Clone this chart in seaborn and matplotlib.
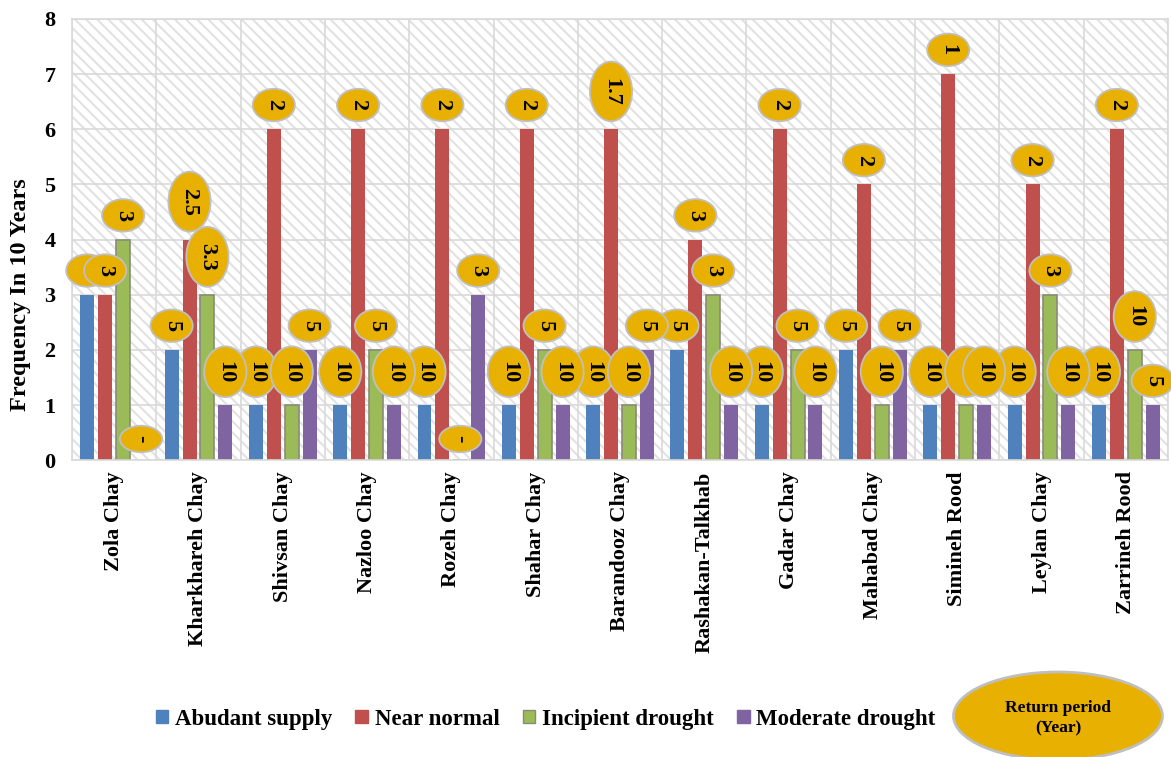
import numpy as np
import pandas as pd
import seaborn as sns
import matplotlib
matplotlib.use("Agg")
import matplotlib.pyplot as plt
from matplotlib.path import Path
from matplotlib.patches import Rectangle, Ellipse, Patch
from matplotlib.text import Text

# ---- data -------------------------------------------------------------
rivers = ["Zola Chay", "Kharkhareh Chay", "Shivsan Chay", "Nazloo Chay",
          "Rozeh Chay", "Shahar Chay", "Barandooz Chay", "Rashakan-Talkhab",
          "Gadar Chay", "Mahabad Chay", "Simineh Rood", "Leylan Chay",
          "Zarrineh Rood"]
classes = ["Abudant supply", "Near normal", "Incipient drought", "Moderate drought"]

abundant = [3, 2, 1, 1, 1, 1, 1, 2, 1, 2, 1, 1, 1]
near_normal = [3, 4, 6, 6, 6, 6, 6, 4, 6, 5, 7, 5, 6]
incipient = [4, 3, 1, 2, 0, 2, 1, 3, 2, 1, 1, 3, 2]
moderate = [0, 1, 2, 1, 3, 1, 2, 1, 1, 2, 1, 1, 1]

# return period (years) written in the callouts
rp_abundant = ["3", "5", "10", "10", "10", "10", "10", "5", "10", "5", "10", "10", "10"]
rp_near_normal = ["3", "2.5", "2", "2", "2", "2", "1.7", "3", "2", "2", "1", "2", "2"]
rp_incipient = ["3", "3.3", "10", "5", "-", "5", "10", "3", "5", "10", "10", "3", "10"]
rp_moderate = ["-", "10", "5", "10", "3", "10", "5", "10", "10", "5", "10", "10", "5"]

colors = ["#4F81BD", "#C0504D", "#9BBB59", "#8064A2"]
GOLD = "#E8B000"
GRID = "#D9D9D9"

df = pd.DataFrame({
    "River": np.tile(rivers, 4),
    "Class": np.repeat(classes, len(rivers)),
    "Freq": np.concatenate([abundant, near_normal, incipient, moderate]),
})

# ---- style --------------------------------------------------------------
sns.set_style("white")
plt.rcParams["font.family"] = ["Liberation Serif", "DejaVu Serif"]
plt.rcParams["font.weight"] = "bold"
plt.rcParams["text.color"] = "black"
plt.rcParams["axes.labelcolor"] = "black"
plt.rcParams["xtick.color"] = "black"
plt.rcParams["ytick.color"] = "black"
plt.rcParams["hatch.linewidth"] = 1.5

DPI = 100
fig, ax = plt.subplots(figsize=(11.71, 7.57), dpi=DPI)
fig.subplots_adjust(left=0.0615, right=0.9974, bottom=0.392, top=0.975)

# diagonal-striped plot background
ax.add_patch(Rectangle((0, 0), 1, 1, transform=ax.transAxes, facecolor="white",
                       edgecolor="#E2E2E2", hatch="\\\\\\", linewidth=0, zorder=0.1))

sns.barplot(data=df, x="River", y="Freq", hue="Class", order=rivers,
            hue_order=classes, palette=colors, saturation=1, width=0.85,
            gap=0.22, linewidth=0, ax=ax, zorder=2)
if ax.get_legend() is not None:
    ax.get_legend().remove()

# olive outline on the incipient-drought bars
for bar in ax.containers[2]:
    bar.set_edgecolor("#8A8A7A")
    bar.set_linewidth(1.2)

# ---- axes -------------------------------------------------------------
ax.set_xlim(-0.5, len(rivers) - 0.5)
ax.set_ylim(0, 8)
ax.set_yticks(range(0, 9))
ax.set_xticks(range(len(rivers)))
ax.set_xticklabels(rivers, rotation=90, fontsize=16, fontweight="bold", color="black")
ax.set_xticks(np.arange(-0.5, len(rivers)), minor=True)
ax.tick_params(axis="both", which="both", length=0)
ax.tick_params(axis="y", labelsize=16, pad=12, labelcolor="black")
ax.tick_params(axis="x", pad=8, labelcolor="black")
for lab in ax.get_yticklabels():
    lab.set_fontweight("bold")
ax.set_xlabel("")
ax.set_ylabel("Frequency In 10 Years", fontsize=17.5, fontweight="bold", color="black")
ax.yaxis.set_label_coords(-0.037, 0.376)

ax.set_axisbelow(True)
ax.grid(False)
ax.grid(True, which="major", axis="y", color=GRID, linewidth=1.2)
ax.grid(True, which="minor", axis="x", color=GRID, linewidth=1.2)
for sp in ax.spines.values():
    sp.set_visible(True)
    sp.set_color(GRID)
    sp.set_linewidth(1.2)


# ---- oval callouts with return periods ----------------------------------
def oval(x0, y0, width, height, mutation_size):
    length = 0.64 * mutation_size + 1.64 * width
    thick = 1.9 * mutation_size
    cx, cy = x0 + width / 2, y0 + height / 2
    circ = Path.unit_circle()
    verts = circ.vertices * np.array([length / 2, thick / 2]) + np.array([cx, cy])
    return Path(verts, circ.codes)


LABEL_FS = 16
fs_px = LABEL_FS * DPI / 72
renderer = fig.canvas.get_renderer()
for cont, texts in zip(ax.containers,
                       [rp_abundant, rp_near_normal, rp_incipient, rp_moderate]):
    for bar, txt in zip(cont, texts):
        x = bar.get_x() + bar.get_width() / 2
        h = bar.get_height()
        t = ax.annotate(txt, xy=(x, h), xytext=(0, 0), textcoords="offset points",
                        ha="center", va="center", rotation=-90,
                        fontsize=LABEL_FS, fontweight="bold", color="black",
                        bbox=dict(boxstyle=oval, fc=GOLD, ec="#C0C0C0", lw=1.3),
                        annotation_clip=False, zorder=5)
        w = Text.get_window_extent(t, renderer).height
        length = 0.64 * fs_px + 1.64 * w
        t.xyann = (0, (8 + length / 2) * 72 / DPI)

# ---- legend and key oval ------------------------------------------------
handles = [Patch(facecolor=c, edgecolor=("#8A8A7A" if i == 2 else c), linewidth=1)
           for i, c in enumerate(colors)]
fig.legend(handles, classes, loc="center", bbox_to_anchor=(0.466, 0.05),
           ncol=4, frameon=False, handlelength=0.55,
           handleheight=0.55, handletextpad=0.3, columnspacing=1.0,
           prop={"weight": "bold", "size": 16.5}, labelcolor="black")

fig.add_artist(Ellipse((1058 / 1171, 1 - 716 / 757), 209 / 1171, 88 / 757,
                       transform=fig.transFigure, facecolor=GOLD,
                       edgecolor="#BFBFBF", linewidth=2, zorder=3))
fig.text(1058 / 1171, 1 - 718 / 757, "Return period\n(Year)", ha="center",
         va="center", fontsize=12.5, fontweight="bold", linespacing=1.35,
         color="black", zorder=4)

fig.savefig("out.png", dpi=DPI)
